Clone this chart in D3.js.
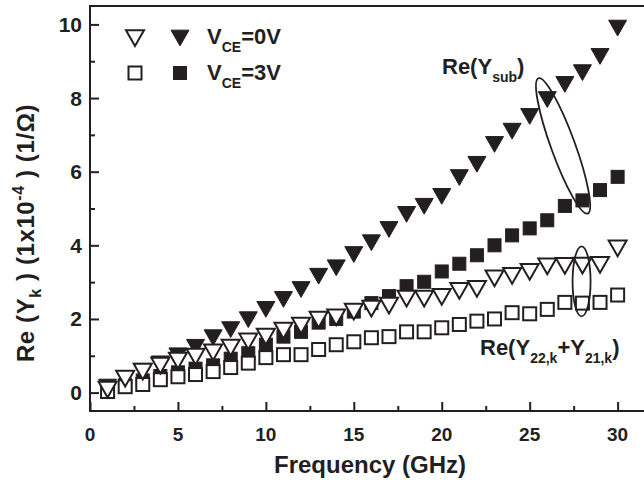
<!DOCTYPE html>
<html>
<head>
<meta charset="utf-8">
<script src="https://cdn.jsdelivr.net/npm/d3@7"></script>
<style>
  body { margin: 0; background: #fff; }
  svg text { font-family: "Liberation Sans", Arial, Helvetica, sans-serif; font-weight: bold; fill: #231f20; }
</style>
</head>
<body>
<div id="chart"></div>
<script>
// frequency points (GHz)
const freq = [1, 2, 3, 4, 5, 6, 7, 8, 9, 10, 11, 12, 13, 14, 15, 16, 17, 18, 19, 20, 21, 22, 23, 24, 25, 26, 27, 28, 29, 30];
// Re(Ysub), VCE=0V (filled triangles)
const subVce0 = [0.15, 0.38, 0.58, 0.78, 1.0, 1.23, 1.49, 1.71, 1.98, 2.26, 2.53, 2.8, 3.16, 3.39, 3.75, 4.07, 4.43, 4.84, 5.06, 5.33, 5.84, 6.2, 6.74, 7.1, 7.5, 7.96, 8.37, 8.69, 9.13, 9.9];
// Re(Y22,k+Y21,k), VCE=0V (open triangles)
const yVce0 = [0.08, 0.38, 0.57, 0.73, 0.87, 0.98, 1.09, 1.22, 1.39, 1.52, 1.68, 1.82, 1.98, 2.04, 2.2, 2.28, 2.36, 2.55, 2.55, 2.6, 2.76, 2.82, 3.1, 3.17, 3.28, 3.43, 3.44, 3.45, 3.47, 3.92];
// Re(Ysub), VCE=3V (filled squares)
const subVce3 = [0.05, 0.2, 0.33, 0.45, 0.55, 0.65, 0.74, 0.92, 1.07, 1.3, 1.52, 1.65, 1.9, 2.0, 2.2, 2.43, 2.62, 2.89, 3.01, 3.29, 3.5, 3.73, 4.0, 4.27, 4.46, 4.68, 5.07, 5.22, 5.5, 5.86];
// Re(Y22,k+Y21,k), VCE=3V (open squares)
const yVce3 = [0.03, 0.16, 0.22, 0.35, 0.43, 0.49, 0.57, 0.68, 0.8, 0.95, 1.03, 1.03, 1.17, 1.3, 1.38, 1.49, 1.52, 1.65, 1.65, 1.76, 1.85, 1.94, 2.0, 2.17, 2.14, 2.26, 2.45, 2.43, 2.45, 2.65];

const xTicks = [0, 5, 10, 15, 20, 25, 30];
const yTicks = [0, 2, 4, 6, 8, 10];

const width = 644;
const height = 486;
const ink = '#231f20';

const margin = { top: 6, right: 0, bottom: 75, left: 90 };

const svg = d3.select('#chart')
    .append('svg')
    .attr('width', width)
    .attr('height', height);

const x = d3.scaleLinear()
    .domain([0, 31.5])
    .range([margin.left, width - margin.right]);

const y = d3.scaleLinear()
    .domain([-0.5, 10.5])
    .range([height - margin.bottom, margin.top]);

// frame (top + left + bottom; right edge falls on the page edge)
svg.append('rect')
    .attr('x', x(0))
    .attr('y', y(10.5))
    .attr('width', x(31.5) - x(0) + 2)
    .attr('height', y(-0.5) - y(10.5))
    .attr('fill', 'none')
    .attr('stroke', ink)
    .attr('stroke-width', 2);

// axes with inward ticks
const xAxis = svg.append('g')
    .attr('transform', `translate(0,${y(-0.5)})`)
    .call(d3.axisBottom(x).tickValues(d3.range(0, 31, 2.5)).tickSize(-9).tickFormat(''));
xAxis.selectAll('.tick line')
    .attr('y2', d => d % 5 === 0 ? -9 : -5);

const yAxis = svg.append('g')
    .attr('transform', `translate(${x(0)},0)`)
    .call(d3.axisLeft(y).tickValues(d3.range(0, 11, 1)).tickSize(-9).tickFormat(''));
yAxis.selectAll('.tick line')
    .attr('x2', d => d % 2 === 0 ? 9 : 5);

svg.selectAll('.domain').remove();
svg.selectAll('.tick line').attr('stroke', ink).attr('stroke-width', 2);

// tick labels
svg.append('g').selectAll('text')
    .data(xTicks)
    .enter()
    .append('text')
    .attr('x', d => x(d))
    .attr('y', y(-0.5) + 30)
    .attr('text-anchor', 'middle')
    .style('font-size', '19px')
    .text(d => d);

svg.append('g').selectAll('text')
    .data(yTicks)
    .enter()
    .append('text')
    .attr('x', x(0) - 8)
    .attr('y', d => y(d) + 7.5)
    .attr('text-anchor', 'end')
    .style('font-size', '21px')
    .text(d => d);

// axis titles
svg.append('text')
    .attr('x', 370)
    .attr('y', 473)
    .attr('text-anchor', 'middle')
    .style('font-size', '24px')
    .text('Frequency (GHz)');

const yTitle = svg.append('text')
    .attr('transform', `translate(34,233) rotate(-90)`)
    .attr('text-anchor', 'middle')
    .style('font-size', '24px')
    .style('letter-spacing', '0.6px');
yTitle.append('tspan').text('Re (Y');
yTitle.append('tspan').attr('dy', 7).style('font-size', '16px').text('k');
yTitle.append('tspan').attr('dy', -7).text(' ) (1x10');
yTitle.append('tspan').attr('dy', -10).style('font-size', '16px').text('-4');
yTitle.append('tspan').attr('dy', 10).text(' ) (1/Ω)');

// markers
const triSize = 9;
function triangle(cx, cy) {
    const h = triSize * 1.75;
    return `M${cx - triSize},${cy - h / 2}L${cx + triSize},${cy - h / 2}L${cx},${cy + h / 2}Z`;
}
const sq = 13;

const series = [
    { values: subVce0, shape: 'tri', filled: true },
    { values: subVce3, shape: 'sq', filled: true },
    { values: yVce3, shape: 'sq', filled: false },
    { values: yVce0, shape: 'tri', filled: false }
];

series.forEach(s => {
    const pts = freq.map((f, i) => ({ f, v: s.values[i] }));
    const g = svg.append('g');
    if (s.shape === 'tri') {
        g.selectAll('path')
            .data(pts)
            .enter()
            .append('path')
            .attr('d', d => triangle(x(d.f), y(d.v)))
            .attr('fill', s.filled ? ink : '#fff')
            .attr('stroke', ink)
            .attr('stroke-width', s.filled ? 1 : 2);
    } else {
        g.selectAll('rect')
            .data(pts)
            .enter()
            .append('rect')
            .attr('x', d => x(d.f) - sq / 2)
            .attr('y', d => y(d.v) - sq / 2)
            .attr('width', sq)
            .attr('height', sq)
            .attr('fill', s.filled ? ink : '#fff')
            .attr('stroke', ink)
            .attr('stroke-width', s.filled ? 1 : 2);
    }
});

// legend
const legend = svg.append('g');
legend.append('path').attr('d', triangle(135, 38)).attr('fill', '#fff').attr('stroke', ink).attr('stroke-width', 2);
legend.append('path').attr('d', triangle(180, 38)).attr('fill', ink).attr('stroke', ink);
legend.append('rect').attr('x', 135 - sq / 2).attr('y', 73 - sq / 2).attr('width', sq).attr('height', sq)
    .attr('fill', '#fff').attr('stroke', ink).attr('stroke-width', 2);
legend.append('rect').attr('x', 180 - sq / 2).attr('y', 73 - sq / 2).attr('width', sq).attr('height', sq)
    .attr('fill', ink).attr('stroke', ink);

[['=0V', 44], ['=3V', 80]].forEach(([t, by]) => {
    const txt = legend.append('text').attr('x', 207).attr('y', by).style('font-size', '22px');
    txt.append('tspan').text('V');
    txt.append('tspan').attr('dy', 8).style('font-size', '14px').text('CE');
    txt.append('tspan').attr('dy', -8).text(t);
});

// annotations
const a1 = svg.append('text').attr('x', 442).attr('y', 74).style('font-size', '22px');
a1.append('tspan').text('Re(Y');
a1.append('tspan').attr('dy', 8).style('font-size', '14px').text('sub');
a1.append('tspan').attr('dy', -8).text(')');

const a2 = svg.append('text').attr('x', 480).attr('y', 355).style('font-size', '22px');
a2.append('tspan').text('Re(Y');
a2.append('tspan').attr('dy', 8).style('font-size', '14px').text('22,k');
a2.append('tspan').attr('dy', -8).text('+Y');
a2.append('tspan').attr('dy', 8).style('font-size', '14px').text('21,k');
a2.append('tspan').attr('dy', -8).text(')');

// ellipses marking the groups
const ellipses = [
    { f: 26.9, v: 6.7, rx: 72, ry: 12, angle: 70 },
    { f: 27.95, v: 3.02, rx: 9, ry: 35, angle: 0 }
];
svg.append('g').selectAll('ellipse')
    .data(ellipses)
    .enter()
    .append('ellipse')
    .attr('cx', 0)
    .attr('cy', 0)
    .attr('rx', d => d.rx)
    .attr('ry', d => d.ry)
    .attr('transform', d => `translate(${x(d.f)},${y(d.v)}) rotate(${d.angle})`)
    .attr('fill', 'none')
    .attr('stroke', ink)
    .attr('stroke-width', 1.8);
</script>
</body>
</html>
